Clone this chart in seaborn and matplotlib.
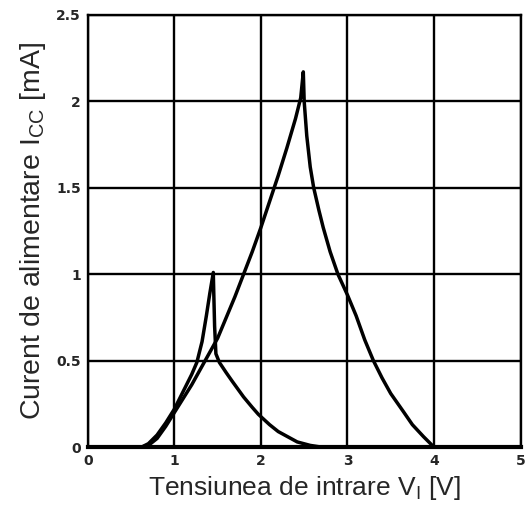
import matplotlib
matplotlib.use("Agg")
import matplotlib.pyplot as plt
import seaborn as sns
import pandas as pd

# Curve with the small peak (~1 mA at ~1.45 V)
vi_a = [0, 0.62, 0.7, 0.8, 0.9, 1.0, 1.1, 1.2, 1.26, 1.32, 1.37, 1.41, 1.45,
        1.455, 1.465, 1.48, 1.52, 1.6, 1.67, 1.8, 1.9, 1.97, 2.1, 2.2, 2.31, 2.42, 2.57, 2.7, 5.0]
icc_a = [0, 0, 0.02, 0.07, 0.14, 0.22, 0.32, 0.42, 0.49, 0.61, 0.76, 0.89, 1.01,
         0.9, 0.7, 0.54, 0.49, 0.43, 0.38, 0.29, 0.23, 0.19, 0.13, 0.09, 0.06, 0.03, 0.01, 0, 0]

# Curve with the large peak (~2.17 mA at ~2.49 V)
vi_b = [0, 0.62, 0.7, 0.8, 0.9, 1.0, 1.1, 1.2, 1.3, 1.4, 1.5, 1.6, 1.7, 1.8, 1.9, 2.0,
        2.1, 2.2, 2.3, 2.4, 2.46, 2.49,
        2.5, 2.53, 2.57, 2.61, 2.67, 2.72, 2.8, 2.89, 3.0, 3.1, 3.2, 3.3, 3.4, 3.5,
        3.64, 3.75, 3.88, 4.0, 5.0]
icc_b = [0, 0, 0.01, 0.05, 0.12, 0.2, 0.28, 0.36, 0.45, 0.54, 0.63, 0.75, 0.87, 1.0, 1.13, 1.27,
         1.42, 1.57, 1.73, 1.9, 2.02, 2.17,
         2.0, 1.8, 1.62, 1.5, 1.37, 1.27, 1.13, 1.0, 0.88, 0.76, 0.62, 0.5, 0.4, 0.31,
         0.21, 0.13, 0.06, 0, 0]

x_ticks = [0, 1, 2, 3, 4, 5]
y_ticks = [0, 0.5, 1, 1.5, 2, 2.5]
x_tick_labels = ["0", "1", "2", "3", "4", "5"]
y_tick_labels = ["0", "0.5", "1", "1.5", "2", "2.5"]

sns.set_theme(style="white")
plt.rcParams["font.family"] = ["Liberation Sans", "DejaVu Sans"]
plt.rcParams["mathtext.default"] = "regular"

fig = plt.figure(figsize=(5.29, 5.11), dpi=100)
ax = fig.add_axes([0.166, 0.125, 0.818, 0.846])

df_a = pd.DataFrame({"Vi": vi_a, "Icc": icc_a})
df_b = pd.DataFrame({"Vi": vi_b, "Icc": icc_b})
sns.lineplot(data=df_a, x="Vi", y="Icc", ax=ax, sort=False, estimator=None,
             color="black", linewidth=2.5, zorder=3)
sns.lineplot(data=df_b, x="Vi", y="Icc", ax=ax, sort=False, estimator=None,
             color="black", linewidth=2.5, zorder=3)

ax.set_xlim(0, 5)
ax.set_ylim(0, 2.5)
ax.set_xticks(x_ticks)
ax.set_xticklabels(x_tick_labels, fontweight="bold", fontsize=10, family="DejaVu Sans")
ax.set_yticks(y_ticks)
ax.set_yticklabels(y_tick_labels, fontweight="bold", fontsize=10, family="DejaVu Sans")
ax.tick_params(axis="x", length=0, pad=5)
ax.tick_params(axis="y", length=0, pad=5)
ax.grid(True, color="black", linewidth=1.7)
ax.set_axisbelow(True)
for s in ax.spines.values():
    s.set_color("black")
    s.set_linewidth(1.7)
ax.spines["bottom"].set_linewidth(3)

ax.set_xlabel("Tensiunea de intrare V$_I$ [V]", fontsize=19, labelpad=4)
ax.set_ylabel("Curent de alimentare I$_{CC}$ [mA]", fontsize=20.5, labelpad=6)

fig.savefig("out.png", dpi=100)
